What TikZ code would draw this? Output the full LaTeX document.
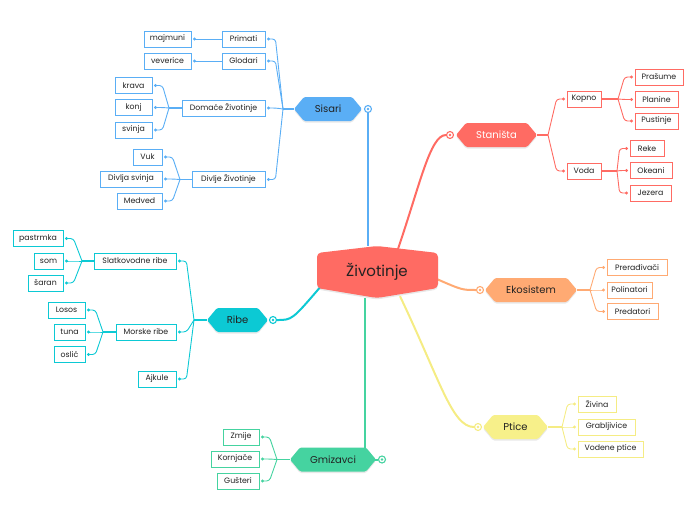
\documentclass[tikz,border=0pt]{standalone}
\usepackage{fontspec}
\setmainfont{Poppins}
\usetikzlibrary{calc,shadows}
\pgfdeclarelayer{bg}
\pgfsetlayers{bg,main}
\definecolor{cred}{HTML}{FF6B63}
\definecolor{cblue}{HTML}{5AAEF5}
\definecolor{ccyan}{HTML}{0CC9D4}
\definecolor{cgreen}{HTML}{45D3A0}
\definecolor{corange}{HTML}{FFAA73}
\definecolor{cyellow}{HTML}{F5EC84}
\definecolor{cyelfill}{HTML}{F7F08A}
\definecolor{ink}{HTML}{222222}
\tikzset{
  leaf/.style={draw=#1, fill=white, line width=0.9pt, minimum height=16pt, inner sep=0pt,
    font=\fontsize{7.8}{9}\selectfont, text=ink},
  hexlabel/.style={inner sep=0pt, minimum height=24pt, font=\fontsize{10}{12}\selectfont},
  stem/.style={line width=1.4pt, draw=#1},
  twig/.style={line width=0.9pt, draw=#1, rounded corners=3pt},
  mainline/.style={line width=2pt, draw=#1},
  hub/.style={circle, draw=#1, fill=white, line width=1.1pt, minimum size=7pt, inner sep=0pt,
    path picture={\fill[#1] (path picture bounding box.center) circle (1.3pt);}},
  softshadow/.style={drop shadow={opacity=0.18, shadow xshift=0pt, shadow yshift=-1.5pt}}
}
% name, cx, cy, full width, fill, text colour, text
\newcommand\hexnode[7]{%
  \fill[#5, rounded corners=1.5pt, softshadow] ({#2-#4/2},#3) -- ({#2-#4/2+10},{#3-12}) -- ({#2+#4/2-10},{#3-12})
    -- ({#2+#4/2},#3) -- ({#2+#4/2-10},{#3+12}) -- ({#2-#4/2+10},{#3+12}) -- cycle;
  \node[hexlabel, text=#6, minimum width=#4pt] (#1) at (#2,#3) {#7};}
% junction, child, colour : children to the left / right
\newcommand\lkid[3]{%
  \draw[twig=#3] (#1) -- ($(#2.east)+(10,0)$) -- ($(#2.east)+(3,0)$);
  \fill[#3] ($(#2.east)+(3,0)$) circle (1.6pt);}
\newcommand\rkid[3]{%
  \draw[twig=#3] (#1) -- ($(#2.west)+(-10,0)$) -- ($(#2.west)+(-3,0)$);
  \fill[#3] ($(#2.west)+(-3,0)$) circle (1.6pt);}
\begin{document}
\begin{tikzpicture}[x=1pt,y=-1pt]
\useasboundingbox (0,0) rectangle (696,520);
% central
\fill[cred, rounded corners=4pt, softshadow] (317,253) -- (377,246) -- (438,253) -- (438,288) -- (377,298) -- (317,288) -- cycle;
\node[inner sep=0pt, minimum width=121pt, minimum height=52pt, font=\fontsize{15}{18}\selectfont, text=ink] (central) at (377,272) {Životinje};
% main topics
\hexnode{sisari}{328}{109}{68}{cblue}{ink}{Sisari}
\hexnode{stanista}{496.5}{135}{81}{cred}{white}{Staništa}
\hexnode{ekosistem}{531}{290}{92}{corange}{ink}{Ekosistem}
\hexnode{ptice}{515.5}{427}{65}{cyelfill}{ink}{Ptice}
\hexnode{gmizavci}{333}{459.5}{86}{cgreen}{ink}{Gmizavci}
\hexnode{ribe}{237.5}{320}{61}{ccyan}{ink}{Ribe}
\node[hub=cblue] (sishub) at (368,109) {};
\node[hub=cred] (stanhub) at (450,135) {};
\node[hub=corange] (ekohub) at (480,290) {};
\node[hub=cyellow] (ptihub) at (478,427) {};
\node[hub=cgreen] (gmhub) at (382,459.5) {};
\node[hub=ccyan] (ribhub) at (273,320) {};
% Sisari
\node[leaf=cblue, minimum width=43pt] (primati) at (243.5,39) {Primati};
\node[leaf=cblue, minimum width=43pt] (glodari) at (243.5,61) {Glodari};
\node[leaf=cblue, minimum width=83pt] (domace) at (223.5,108) {Domaće Životinje};
\node[leaf=cblue, minimum width=73pt] (divlje) at (228.5,179.5) {Divlje Životinje};
\node[leaf=cblue, minimum width=47pt] (majmuni) at (167.5,39) {majmuni};
\node[leaf=cblue, minimum width=47pt] (veverice) at (167.5,61) {veverice};
\node[leaf=cblue, minimum width=37pt] (krava) at (133.5,85.5) {krava};
\node[leaf=cblue, minimum width=37pt] (konj) at (133.5,107.5) {konj};
\node[leaf=cblue, minimum width=37pt] (svinja) at (133.5,130) {svinja};
\node[leaf=cblue, minimum width=29pt] (vuk) at (147.5,157) {Vuk};
\node[leaf=cblue, minimum width=62pt] (divljasvinja) at (131,179) {Divlja svinja};
\node[leaf=cblue, minimum width=45pt] (medved) at (139.5,201) {Medved};
% Stanista
\node[leaf=cred, minimum width=34pt] (kopno) at (584,99) {Kopno};
\node[leaf=cred, minimum width=34pt] (voda) at (584,171) {Voda};
\node[leaf=cred, minimum width=48pt] (prasume) at (659,77) {Prašume};
\node[leaf=cred, minimum width=43pt] (planine) at (656.5,99.5) {Planine};
\node[leaf=cred, minimum width=43pt] (pustinje) at (656.5,121) {Pustinje};
\node[leaf=cred, minimum width=34pt] (reke) at (647,148.5) {Reke};
\node[leaf=cred, minimum width=42pt] (okeani) at (651,170.5) {Okeani};
\node[leaf=cred, minimum width=41pt] (jezera) at (650.5,193) {Jezera};
% Ekosistem
\node[leaf=corange, minimum width=60pt] (preradjivaci) at (637,267.5) {Prerađivači};
\node[leaf=corange, minimum width=45pt] (polinatori) at (629.5,290) {Polinatori};
\node[leaf=corange, minimum width=51pt] (predatori) at (632.5,311.5) {Predatori};
% Ptice
\node[leaf=cyellow, minimum width=38pt] (zivina) at (597,404) {Živina};
\node[leaf=cyellow, minimum width=57pt] (grabljivice) at (606.5,427) {Grabljivice};
\node[leaf=cyellow, minimum width=65pt] (vodene) at (610.5,449) {Vodene ptice};
% Gmizavci
\node[leaf=cgreen, minimum width=36pt] (zmije) at (241,437) {Zmije};
\node[leaf=cgreen, minimum width=48pt] (kornjace) at (235,459) {Kornjače};
\node[leaf=cgreen, minimum width=42pt] (gusteri) at (238,481) {Gušteri};
% Ribe
\node[leaf=ccyan, minimum width=82pt] (slatko) at (135,261) {Slatkovodne ribe};
\node[leaf=ccyan, minimum width=60pt] (morske) at (146,332) {Morske ribe};
\node[leaf=ccyan, minimum width=38pt] (ajkule) at (157,379) {Ajkule};
\node[leaf=ccyan, minimum width=50pt] (pastrmka) at (38,238.5) {pastrmka};
\node[leaf=ccyan, minimum width=29pt] (som) at (48.5,261) {som};
\node[leaf=ccyan, minimum width=35pt] (saran) at (45.5,283) {šaran};
\node[leaf=ccyan, minimum width=37pt] (losos) at (66.5,310) {Losos};
\node[leaf=ccyan, minimum width=31pt] (tuna) at (69.5,332) {tuna};
\node[leaf=ccyan, minimum width=31pt] (oslic) at (69.5,354.5) {oslić};
% junctions
\coordinate (sisJ) at (283,109);
\coordinate (domJ) at (169,108);
\coordinate (divJ) at (180,179.5);
\coordinate (stanJ) at (548,135);
\coordinate (kopJ) at (618,99);
\coordinate (vodJ) at (617,171);
\coordinate (ekoJ) at (590,290);
\coordinate (ptiJ) at (562,427);
\coordinate (gmJ) at (277,459.5);
\coordinate (ribJ) at (194,320);
\coordinate (slJ) at (82,261);
\coordinate (moJ) at (103,332);
\coordinate (gmtop) at ($(central.south)+(-12,0)$);
\begin{pgfonlayer}{bg}
% main connectors
\draw[mainline=cblue] (sishub.south) -- (sishub.south |- central.north);
\draw[mainline=cred] ($(central.north)+(20,6)$) .. controls (420,185) and (430,135) .. (stanhub.west);
\draw[mainline=corange] ($(central.east)+(-1,7)$) .. controls (462,290) .. (ekohub.west);
\draw[mainline=cyellow] ($(central.south)+(23,-2)$) .. controls (440,380) and (452,427) .. (ptihub.west);
\draw[mainline=cgreen] (gmtop) -- (gmtop |- gmhub) -- (gmhub.west);
\draw[mainline=ccyan] (ribhub.east) .. controls (292,320) .. ($(central.west)+(4,15)$);
% Sisari
\draw[stem=cblue] (sisari.west) -- (sisJ);
\foreach \c in {primati,glodari,domace,divlje} {\lkid{sisJ}{\c}{cblue}}
\draw[twig=cblue] (primati.west) -- ($(majmuni.east)+(3,0)$);
\fill[cblue] ($(majmuni.east)+(3,0)$) circle (1.6pt);
\draw[twig=cblue] (glodari.west) -- ($(veverice.east)+(3,0)$);
\fill[cblue] ($(veverice.east)+(3,0)$) circle (1.6pt);
\draw[stem=cblue] (domace.west) -- (domJ);
\foreach \c in {krava,konj,svinja} {\lkid{domJ}{\c}{cblue}}
\draw[stem=cblue] (divlje.west) -- (divJ);
\foreach \c in {vuk,divljasvinja,medved} {\lkid{divJ}{\c}{cblue}}
% Stanista
\draw[stem=cred] (stanista.east) -- (stanJ);
\foreach \c in {kopno,voda} {\rkid{stanJ}{\c}{cred}}
\draw[stem=cred] (kopno.east) -- (kopJ);
\foreach \c in {prasume,planine,pustinje} {\rkid{kopJ}{\c}{cred}}
\draw[stem=cred] (voda.east) -- (vodJ);
\foreach \c in {reke,okeani,jezera} {\rkid{vodJ}{\c}{cred}}
% Ekosistem
\draw[stem=corange] (ekosistem.east) -- (ekoJ);
\foreach \c in {preradjivaci,polinatori,predatori} {\rkid{ekoJ}{\c}{corange}}
% Ptice
\draw[stem=cyellow] (ptice.east) -- (ptiJ);
\foreach \c in {zivina,grabljivice,vodene} {\rkid{ptiJ}{\c}{cyellow}}
% Gmizavci
\draw[stem=cgreen] (gmizavci.west) -- (gmJ);
\foreach \c in {zmije,kornjace,gusteri} {\lkid{gmJ}{\c}{cgreen}}
% Ribe
\draw[stem=ccyan] (ribe.west) -- (ribJ);
\foreach \c in {slatko,morske,ajkule} {\lkid{ribJ}{\c}{ccyan}}
\draw[stem=ccyan] (slatko.west) -- (slJ);
\foreach \c in {pastrmka,som,saran} {\lkid{slJ}{\c}{ccyan}}
\draw[stem=ccyan] (morske.west) -- (moJ);
\foreach \c in {losos,tuna,oslic} {\lkid{moJ}{\c}{ccyan}}
\end{pgfonlayer}
\end{tikzpicture}
\end{document}
